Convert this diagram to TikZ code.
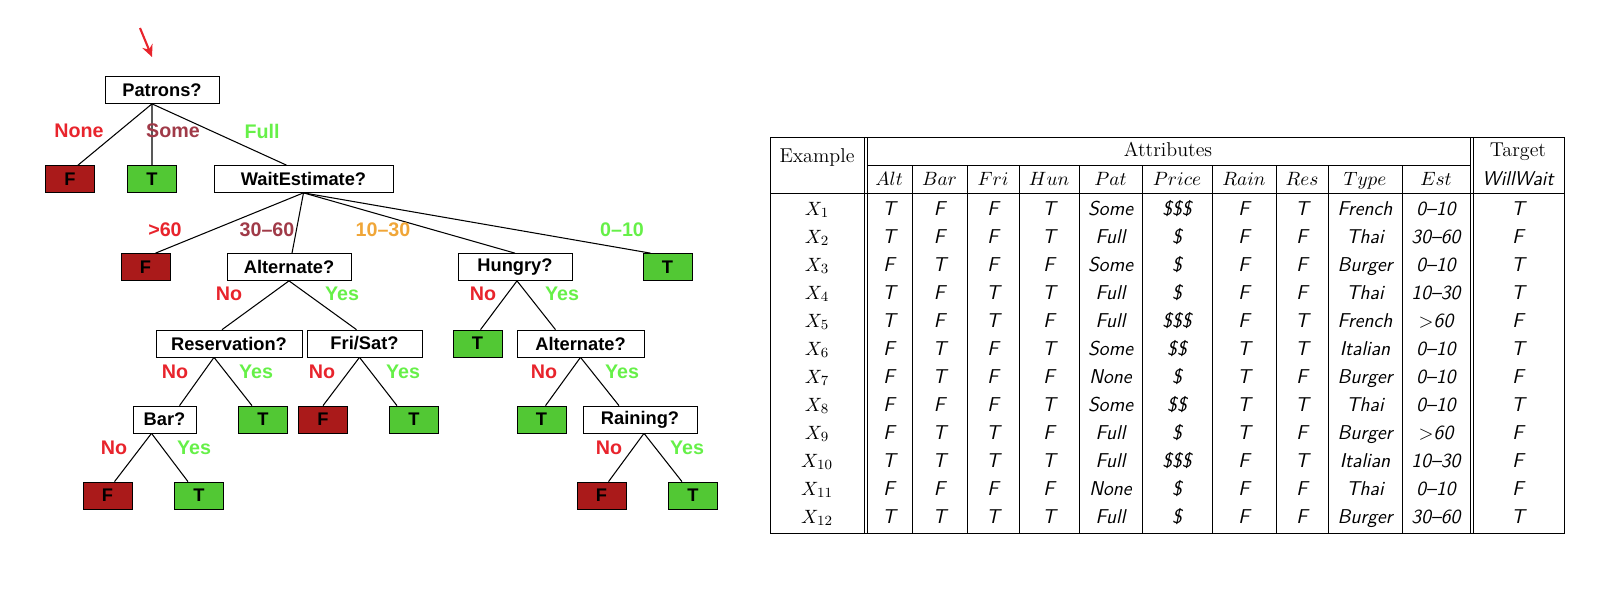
\documentclass[tikz,border=0pt]{standalone}
\usepackage{fontspec}
\newfontfamily\treefont{Liberation Sans}
\usetikzlibrary{arrows.meta}
\definecolor{leafred}{RGB}{170,26,26}
\definecolor{leafgreen}{RGB}{82,200,52}
\definecolor{lblred}{RGB}{232,36,44}
\definecolor{lblrose}{RGB}{160,58,72}
\definecolor{lblgreen}{RGB}{102,240,72}
\definecolor{lblorange}{RGB}{240,166,56}
\tikzset{
  question/.style={draw, rectangle, fill=white, minimum height=5.4mm, inner sep=0pt,
    font=\treefont\bfseries\fontsize{10.4}{12}\selectfont},
  leafF/.style={question, fill=leafred, minimum width=9.8mm},
  leafT/.style={question, fill=leafgreen, minimum width=9.8mm},
  branch/.style={inner sep=0pt, font=\treefont\bfseries\fontsize{11.2}{13}\selectfont},
  treeline/.style={line width=0.6pt},
  tabline/.style={line width=0.55pt},
  head/.style={anchor=base, inner sep=0pt, font=\fontsize{11.4}{13}\selectfont},
  cell/.style={anchor=base, inner sep=0pt, font=\sffamily\itshape\fontsize{11.4}{13}\selectfont}
}
\begin{document}
\begin{tikzpicture}[x=0.2mm, y=-0.2mm]
\useasboundingbox (0,0) rectangle (1600,592);
% hand-drawn pointer
\coordinate (markA) at (140,28);
\coordinate (markB) at (152,57);
\draw[color=lblred, line width=1.2pt, -{Stealth[length=2.4mm, width=2.2mm]}] (markA) -- (markB);
% tree
\node[question, minimum width=22.8mm] (patrons) at (162,90) {Patrons?};
\node[leafF] (noneF) at (70,179) {F};
\node[leafT] (someT) at (152,179) {T};
\node[question, minimum width=35.8mm] (wait) at (303.5,179) {WaitEstimate?};
\node[leafF] (waitF) at (145.5,267) {F};
\node[question, minimum width=24.8mm] (alt) at (289,267) {Alternate?};
\node[question, minimum width=22.8mm] (hungry) at (515,267) {Hungry?};
\node[leafT] (waitT) at (667.5,267) {T};
\node[question, minimum width=29.2mm] (res) at (229,343.5) {Reservation?};
\node[question, minimum width=23mm] (frisat) at (364.5,343.5) {Fri/Sat?};
\node[leafT] (hungryT) at (477.5,343.5) {T};
\node[question, minimum width=25.4mm] (alt2) at (580.5,343.5) {Alternate?};
\node[question, minimum width=12.6mm] (bar) at (164.5,419.5) {Bar?};
\node[leafT] (resT) at (263,419.5) {T};
\node[leafF] (friF) at (323,419.5) {F};
\node[leafT] (friT) at (414,419.5) {T};
\node[leafT] (alt2T) at (541.5,419.5) {T};
\node[question, minimum width=22.8mm] (rain) at (640,419.5) {Raining?};
\node[leafF] (barF) at (107.5,495.5) {F};
\node[leafT] (barT) at (199,495.5) {T};
\node[leafF] (rainF) at (601.5,495.5) {F};
\node[leafT] (rainT) at (693,495.5) {T};
\draw[treeline] ([xshift=-2mm]patrons.south) -- ([xshift=1.6mm]noneF.north);
\draw[treeline] ([xshift=-2mm]patrons.south) -- (someT.north);
\draw[treeline] ([xshift=-2mm]patrons.south) -- ([xshift=-3.4mm]wait.north);
\draw[treeline] (wait.south) -- ([xshift=2mm]waitF.north);
\draw[treeline] (wait.south) -- ([xshift=0.6mm]alt.north);
\draw[treeline] (wait.south) -- (hungry.north);
\draw[treeline] (wait.south) -- ([xshift=-3.4mm]waitT.north);
\draw[treeline] (alt.south) -- ([xshift=-1.4mm]res.north);
\draw[treeline] (alt.south) -- ([xshift=-1.6mm]frisat.north);
\draw[treeline] ([xshift=0.4mm]hungry.south) -- ([xshift=0.6mm]hungryT.north);
\draw[treeline] ([xshift=0.4mm]hungry.south) -- ([xshift=-5mm]alt2.north);
\draw[treeline] ([xshift=-3mm]res.south) -- ([xshift=3mm]bar.north);
\draw[treeline] ([xshift=-3mm]res.south) -- ([xshift=-2.2mm]resT.north);
\draw[treeline] ([xshift=-1mm]frisat.south) -- (friF.north);
\draw[treeline] ([xshift=-1mm]frisat.south) -- ([xshift=-3.4mm]friT.north);
\draw[treeline] (alt2.south) -- ([xshift=0.8mm]alt2T.north);
\draw[treeline] (alt2.south) -- ([xshift=-4.2mm]rain.north);
\draw[treeline] ([xshift=-2.6mm]bar.south) -- ([xshift=1.4mm]barF.north);
\draw[treeline] ([xshift=-2.6mm]bar.south) -- ([xshift=-2.2mm]barT.north);
\draw[treeline] ([xshift=0.8mm]rain.south) -- ([xshift=1.4mm]rainF.north);
\draw[treeline] ([xshift=0.8mm]rain.south) -- ([xshift=-2.2mm]rainT.north);
% branch labels
\node[branch, text=lblred] (lNone) at (79,131) {None};
\node[branch, text=lblrose] (lSome) at (173,131) {Some};
\node[branch, text=lblgreen] (lFull) at (262,131) {Full};
\node[branch, text=lblred] (lOver) at (165,230) {>60};
\node[branch, text=lblrose] (lMid) at (267,230) {30\textendash 60};
\node[branch, text=lblorange] (lShort) at (383,230) {10\textendash 30};
\node[branch, text=lblgreen] (lNow) at (622,230) {0\textendash 10};
\node[branch, text=lblred] (altNo) at (229,294) {No};
\node[branch, text=lblgreen] (altYes) at (342,294) {Yes};
\node[branch, text=lblred] (hunNo) at (483,294) {No};
\node[branch, text=lblgreen] (hunYes) at (562,294) {Yes};
\node[branch, text=lblred] (resNo) at (175,372) {No};
\node[branch, text=lblgreen] (resYes) at (256,372) {Yes};
\node[branch, text=lblred] (friNo) at (322,372) {No};
\node[branch, text=lblgreen] (friYes) at (403,372) {Yes};
\node[branch, text=lblred] (alt2No) at (544,372) {No};
\node[branch, text=lblgreen] (alt2Yes) at (622,372) {Yes};
\node[branch, text=lblred] (barNo) at (114,448) {No};
\node[branch, text=lblgreen] (barYes) at (194,448) {Yes};
\node[branch, text=lblred] (rainNo) at (609,448) {No};
\node[branch, text=lblgreen] (rainYes) at (687,448) {Yes};
% table
\node[head] (hExample) at (817,162) {Example};
\node[head] (hAttr) at (1168,156) {Attributes};
\node[head] (hTarget) at (1518,156) {Target};
\foreach \h/\cx in {Alt/889, Bar/939.5, Fri/993, Hun/1049, Pat/1110.5, Price/1177, Rain/1244, Res/1302, Type/1365, Est/1436}
  \node[head] (h\h) at (\cx,185) {$\h$};
\node[cell] (hWillWait) at (1518,185) {WillWait};
\foreach \vals [count=\r] in {
  {T,F,F,T,Some,\$\$\$,F,T,French,0--10,T},
  {T,F,F,T,Full,\$,F,F,Thai,30--60,F},
  {F,T,F,F,Some,\$,F,F,Burger,0--10,T},
  {T,F,T,T,Full,\$,F,F,Thai,10--30,T},
  {T,F,T,F,Full,\$\$\$,F,T,French,$>$60,F},
  {F,T,F,T,Some,\$\$,T,T,Italian,0--10,T},
  {F,T,F,F,None,\$,T,F,Burger,0--10,F},
  {F,F,F,T,Some,\$\$,T,T,Thai,0--10,T},
  {F,T,T,F,Full,\$,T,F,Burger,$>$60,F},
  {T,T,T,T,Full,\$\$\$,F,T,Italian,10--30,F},
  {F,F,F,F,None,\$,F,F,Thai,0--10,F},
  {T,T,T,T,Full,\$,F,F,Burger,30--60,T}} {
  \pgfmathsetmacro{\ry}{215+28*(\r-1)}
  \node[head] (x\r) at (817,\ry) {$X_{\r}$};
  \foreach \v [count=\c] in \vals {
    \pgfmathsetmacro{\cx}{{889,939.5,993,1049,1110.5,1177,1244,1302,1365,1436,1518}[\c-1]}
    \node[cell] (v\r-\c) at (\cx,\ry) {\v};
  }
}
\draw[tabline] (770,137) rectangle (1564,533);
\draw[tabline] (864,137) -- (864,533);
\draw[tabline] (867,137) -- (867,533);
\draw[tabline] (1470,137) -- (1470,533);
\draw[tabline] (1473,137) -- (1473,533);
\draw[tabline] (867,165) -- (1470,165);
\draw[tabline] (770,193) -- (1564,193);
\foreach \sx in {912,967,1019,1079,1142,1212,1276,1328,1402}
  \draw[tabline] (\sx,165) -- (\sx,533);
\end{tikzpicture}
\end{document}
